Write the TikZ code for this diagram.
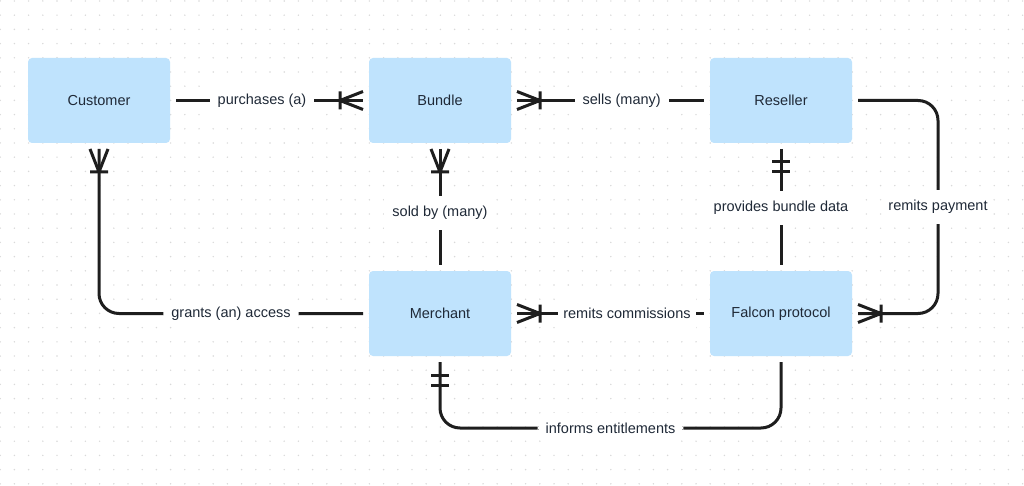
\documentclass[tikz,border=0pt]{standalone}
\usepackage{fontspec}
\setmainfont{Liberation Sans}
\usepackage{xcolor}
\usetikzlibrary{positioning}
\definecolor{boxblue}{HTML}{BFE3FD}
\definecolor{inkdark}{HTML}{1E1E1E}
\definecolor{textdark}{HTML}{1F2937}
\definecolor{griddot}{HTML}{D9D9D9}

\begin{document}
\begin{tikzpicture}[
        x=1pt, y=1pt,
        every node/.style={font=\fontsize{14.5pt}{17pt}\selectfont, text=textdark},
        entity/.style={rectangle, fill=boxblue, rounded corners=4pt, align=center, minimum width=142pt, minimum height=85pt, outer sep=6pt},
        link/.style={line width=3pt, draw=inkdark},
        lbl/.style={fill=white, inner xsep=8pt, inner ysep=10pt},
        crowbar/.pic={\draw[link] (23,0) -- (0,9) (23,0) -- (0,-9) (23,-9) -- (23,9);},
        twobar/.pic={\draw[link] (13,-9) -- (13,9) (23,-9) -- (23,9);}
    ]
        \fill[white] (0,0) rectangle (1024,-486);
        \useasboundingbox (0,0) rectangle (1024,-486);
        \foreach \i in {0,...,72}
            \foreach \j in {0,...,34}
                \fill[griddot] (0.2+\i*14.2, -1-\j*14.2) circle (0.8);

        \node[entity] (cust) at (99,-100.5) {Customer};
        \node[entity, right=187pt of cust]   (bund)  {Bundle};
        \node[entity, right=187pt of bund]   (resl)  {Reseller};
        \node[entity, below=116pt of bund]   (merch) {Merchant};
        \node[entity, below=116pt of resl]   (falc)  {Falcon protocol};

        \draw[link] (cust) -- node[lbl, pos=0.46] {purchases (a)} (bund);
        \draw[link] (bund) -- node[lbl, pos=0.56] {sells (many)} (resl);
        \draw[link] (bund) -- node[lbl, pos=0.55] {sold by (many)} (merch);
        \draw[link] (resl) -- node[lbl, pos=0.51] {provides bundle data} (falc);
        \draw[link] (merch) -- node[lbl, inner xsep=5pt, pos=0.588] {remits commissions} (falc);
        \draw[link, rounded corners=20pt] (merch.west) -| node[lbl, pos=0.25] {grants (an) access} (cust.south);
        \draw[link, rounded corners=20pt] (resl.east) -- ++(80,0) |- node[lbl, pos=0.25] {remits payment} (falc.east);
        \draw[link, rounded corners=20pt] (merch.south) -- ++(0,-66) -| node[lbl, pos=0.25] {informs entitlements} (falc.south);

        \pic[rotate=180] at (bund.west) {crowbar};
        \pic at (bund.east) {crowbar};
        \pic[rotate=-90] at (bund.south) {crowbar};
        \pic[rotate=-90] at (cust.south) {crowbar};
        \pic at (merch.east) {crowbar};
        \pic at (falc.east) {crowbar};
        \pic[rotate=-90] at (resl.south) {twobar};
        \pic[rotate=-90] at (merch.south) {twobar};
    \end{tikzpicture}
\end{document}
